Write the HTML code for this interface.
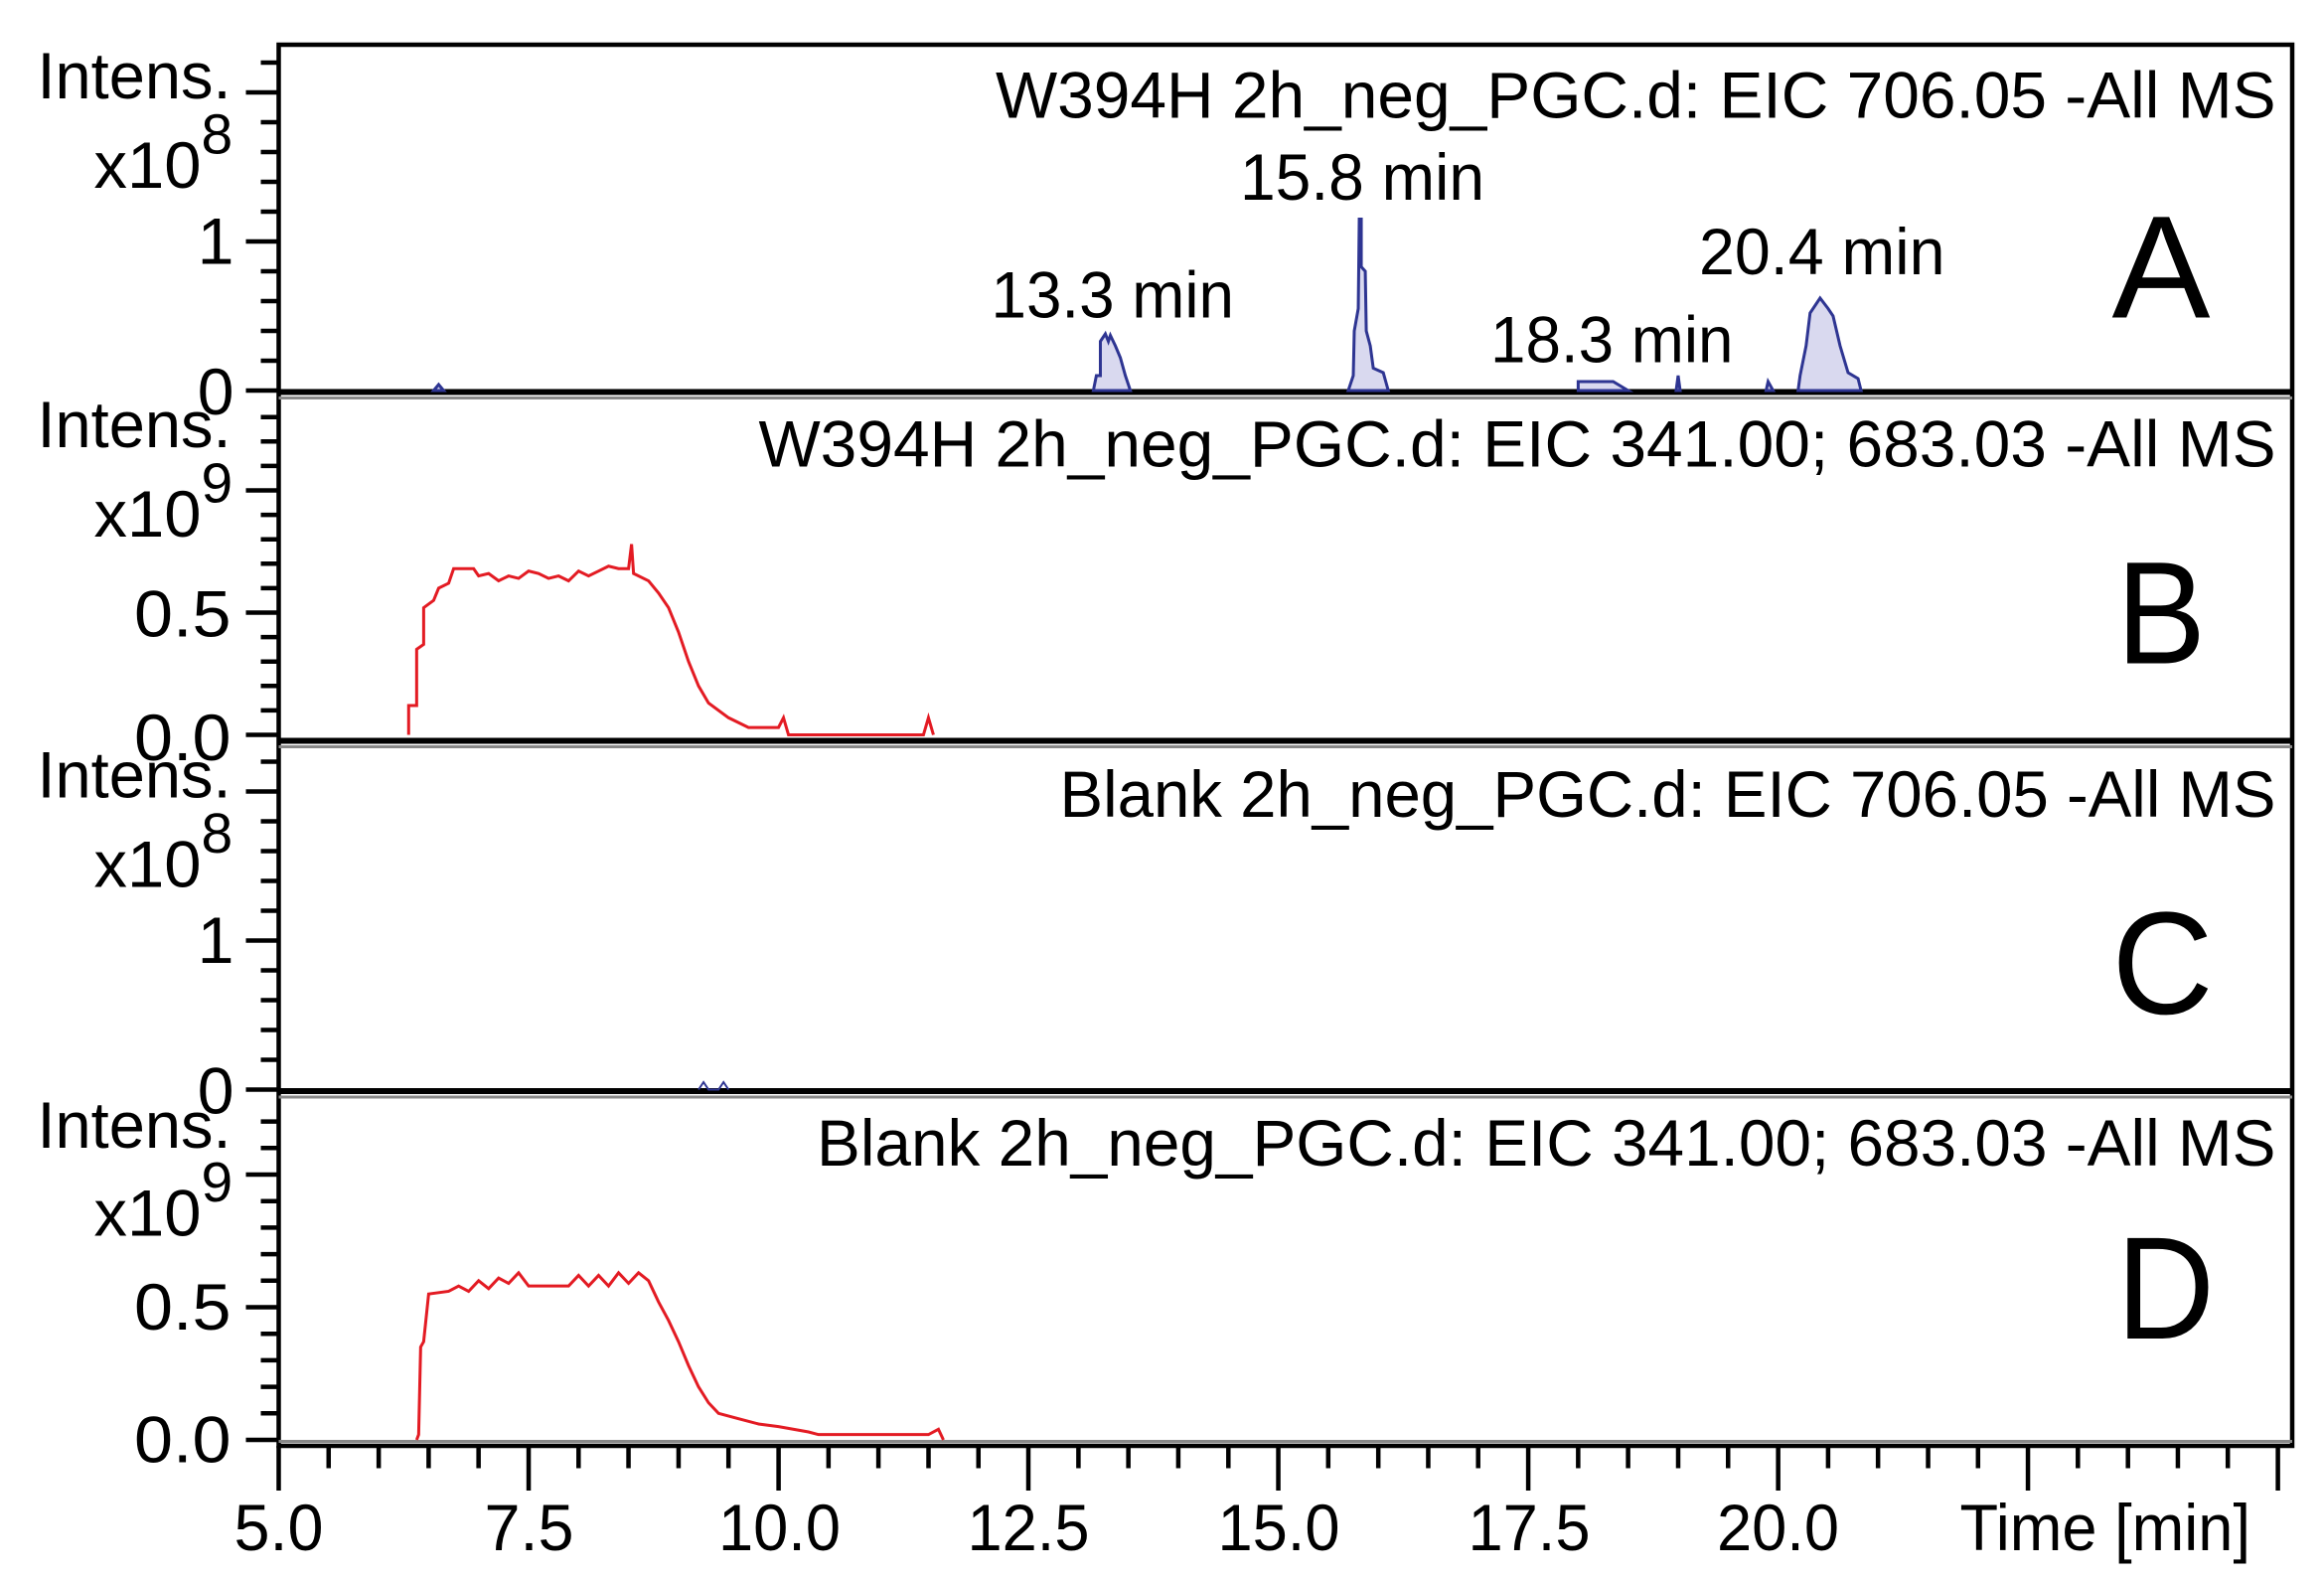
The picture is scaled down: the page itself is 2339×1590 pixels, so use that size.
<!DOCTYPE html>
<html><head><meta charset="utf-8"><style>html,body{margin:0;padding:0;background:#fff}svg{display:block}</style></head>
<body>
<svg width="2339" height="1590" viewBox="0 0 1559.33 1060" xmlns="http://www.w3.org/2000/svg" font-family="Liberation Sans, Arial, sans-serif">
<rect width="1559.33" height="1060" fill="#fff"/>
<g fill="none" stroke="#000" stroke-width="3">
<path d="M165,262H187M175,242H187M175,222H187M175,202H187M175,182H187M165,162H187M175,142H187M175,122H187M175,102H187M175,82H187M165,62H187M175,42H187"/>
<path d="M165,493H187M175,476.6H187M175,460.2H187M175,443.8H187M175,427.4H187M165,411H187M175,394.6H187M175,378.2H187M175,361.8H187M175,345.4H187M165,329H187M175,312.6H187M175,296.2H187M175,279.8H187"/>
<path d="M165,731H187M175,711H187M175,691H187M175,671H187M175,651H187M165,631H187M175,611H187M175,591H187M175,571H187M175,551H187M165,531H187M175,511H187"/>
<path d="M165,966H187M175,948.2H187M175,930.4H187M175,912.6H187M175,894.8H187M165,877H187M175,859.2H187M175,841.4H187M175,823.6H187M175,805.8H187M165,788H187M175,770.2H187M175,752.4H187"/>
<path d="M187,970V1000M220.5,970V985M254.1,970V985M287.6,970V985M321.1,970V985M354.7,970V1000M388.2,970V985M421.7,970V985M455.3,970V985M488.8,970V985M522.4,970V1000M555.9,970V985M589.4,970V985M623,970V985M656.5,970V985M690,970V1000M723.6,970V985M757.1,970V985M790.6,970V985M824.2,970V985M857.7,970V1000M891.2,970V985M924.8,970V985M958.3,970V985M991.8,970V985M1025.4,970V1000M1058.9,970V985M1092.4,970V985M1126,970V985M1159.5,970V985M1193.1,970V1000M1226.6,970V985M1260.1,970V985M1293.7,970V985M1327.2,970V985M1360.7,970V1000M1394.2,970V985M1427.8,970V985M1461.3,970V985M1494.8,970V985M1528.4,970V1000"/>
<rect x="187" y="30" width="1351" height="940"/>
<line x1="187" y1="263" x2="1538" y2="263" stroke-width="4"/>
<line x1="187" y1="497" x2="1538" y2="497" stroke-width="4"/>
<line x1="187" y1="732" x2="1538" y2="732" stroke-width="4"/>
</g>
<g stroke="#888" stroke-width="2">
<line x1="187" y1="267" x2="1538" y2="267"/>
<line x1="187" y1="501" x2="1538" y2="501"/>
<line x1="187" y1="736" x2="1538" y2="736"/>
<line x1="187" y1="967" x2="1538" y2="967"/>
</g>
<g transform="translate(187,262) scale(67.07,-100) translate(-5,0)">
<path fill="#d9d9ef" stroke="#2e3592" stroke-width="3" vector-effect="non-scaling-stroke" d="M13.15,0 L13.18,0.1 L13.22,0.1 L13.22,0.33 L13.27,0.38 L13.3,0.33 L13.32,0.37 L13.37,0.3 L13.42,0.22 L13.47,0.1 L13.52,0 Z M15.7,0 L15.75,0.1 L15.76,0.4 L15.8,0.55 L15.81,1.15 L15.83,1.15 L15.83,0.83 L15.87,0.8 L15.88,0.4 L15.92,0.3 L15.95,0.15 L16.05,0.12 L16.1,0 Z M18.0,0 L18.0,0.06 L18.35,0.06 L18.45,0.02 L18.5,0 Z M18.98,0 L19.0,0.1 L19.02,0 Z M19.88,0 L19.9,0.06 L19.95,0 Z M20.2,0 L20.22,0.1 L20.28,0.3 L20.32,0.52 L20.38,0.58 L20.42,0.62 L20.5,0.55 L20.55,0.5 L20.62,0.3 L20.7,0.12 L20.8,0.08 L20.83,0 Z M6.55,0 L6.6,0.04 L6.65,0 Z"/>
</g>
<g transform="translate(187,493) scale(67.07,-164) translate(-5,0)">
<polyline fill="none" stroke="#e31b23" stroke-width="3" vector-effect="non-scaling-stroke" points="6.3,0 6.3,0.12 6.38,0.12 6.38,0.35 6.45,0.37 6.45,0.52 6.55,0.55 6.6,0.6 6.7,0.62 6.75,0.68 6.95,0.68 7.0,0.65 7.1,0.66 7.2,0.63 7.3,0.65 7.4,0.64 7.5,0.67 7.6,0.66 7.7,0.64 7.8,0.65 7.9,0.63 8.0,0.67 8.1,0.65 8.2,0.67 8.3,0.69 8.4,0.68 8.5,0.68 8.53,0.78 8.55,0.66 8.7,0.63 8.8,0.58 8.9,0.52 9.0,0.42 9.1,0.3 9.2,0.2 9.3,0.13 9.5,0.07 9.7,0.03 10.0,0.03 10.05,0.07 10.1,0 11.45,0 11.5,0.07 11.55,0"/>
</g>
<g transform="translate(187,731) scale(67.07,-100) translate(-5,0)">
<polyline fill="none" stroke="#2e3592" stroke-width="2" vector-effect="non-scaling-stroke" points="9.2,0 9.25,0.05 9.3,0 9.4,0 9.45,0.05 9.5,0"/>
</g>
<g transform="translate(187,966) scale(67.07,-178) translate(-5,0)">
<polyline fill="none" stroke="#e31b23" stroke-width="3" vector-effect="non-scaling-stroke" points="6.38,0 6.4,0.02 6.42,0.35 6.45,0.37 6.5,0.55 6.7,0.56 6.8,0.58 6.9,0.56 7.0,0.6 7.1,0.57 7.2,0.61 7.3,0.59 7.4,0.63 7.5,0.58 7.7,0.58 7.9,0.58 8.0,0.62 8.1,0.58 8.2,0.62 8.3,0.58 8.4,0.63 8.5,0.59 8.6,0.63 8.7,0.6 8.8,0.52 8.9,0.45 9.0,0.37 9.1,0.28 9.2,0.2 9.3,0.14 9.4,0.1 9.6,0.08 9.8,0.06 10.0,0.05 10.3,0.03 10.4,0.02 11.5,0.02 11.6,0.04 11.65,0"/>
</g>
<g font-size="44" fill="#000">
<text x="25" y="66" textLength="130" lengthAdjust="spacingAndGlyphs">Intens.</text>
<text x="25" y="300" textLength="130" lengthAdjust="spacingAndGlyphs">Intens.</text>
<text x="25" y="535" textLength="130" lengthAdjust="spacingAndGlyphs">Intens.</text>
<text x="25" y="770" textLength="130" lengthAdjust="spacingAndGlyphs">Intens.</text>
<text x="63" y="126" textLength="72" lengthAdjust="spacingAndGlyphs">x10</text><text x="135" y="103" font-size="38">8</text>
<text x="63" y="360" textLength="72" lengthAdjust="spacingAndGlyphs">x10</text><text x="135" y="337" font-size="38">9</text>
<text x="63" y="595" textLength="72" lengthAdjust="spacingAndGlyphs">x10</text><text x="135" y="572" font-size="38">8</text>
<text x="63" y="829" textLength="72" lengthAdjust="spacingAndGlyphs">x10</text><text x="135" y="806" font-size="38">9</text>
<text x="157" y="177" text-anchor="end">1</text>
<text x="157" y="278" text-anchor="end">0</text>
<text x="90" y="427" textLength="65" lengthAdjust="spacingAndGlyphs">0.5</text>
<text x="90" y="510" textLength="65" lengthAdjust="spacingAndGlyphs">0.0</text>
<text x="157" y="646" text-anchor="end">1</text>
<text x="157" y="747" text-anchor="end">0</text>
<text x="90" y="892" textLength="65" lengthAdjust="spacingAndGlyphs">0.5</text>
<text x="90" y="981" textLength="65" lengthAdjust="spacingAndGlyphs">0.0</text>
<text x="668" y="79" textLength="859" lengthAdjust="spacingAndGlyphs">W394H 2h_neg_PGC.d: EIC 706.05 -All MS</text>
<text x="509" y="313" textLength="1018" lengthAdjust="spacingAndGlyphs">W394H 2h_neg_PGC.d: EIC 341.00; 683.03 -All MS</text>
<text x="711" y="548" textLength="816" lengthAdjust="spacingAndGlyphs">Blank 2h_neg_PGC.d: EIC 706.05 -All MS</text>
<text x="548" y="782" textLength="979" lengthAdjust="spacingAndGlyphs">Blank 2h_neg_PGC.d: EIC 341.00; 683.03 -All MS</text>
<text x="665" y="213" textLength="163" lengthAdjust="spacingAndGlyphs">13.3 min</text>
<text x="832" y="134" textLength="164" lengthAdjust="spacingAndGlyphs">15.8 min</text>
<text x="1000" y="243" textLength="163" lengthAdjust="spacingAndGlyphs">18.3 min</text>
<text x="1140" y="184" textLength="165" lengthAdjust="spacingAndGlyphs">20.4 min</text>
<text x="157" y="1040" textLength="60" lengthAdjust="spacingAndGlyphs">5.0</text>
<text x="325" y="1040" textLength="60" lengthAdjust="spacingAndGlyphs">7.5</text>
<text x="482" y="1040" textLength="82" lengthAdjust="spacingAndGlyphs">10.0</text>
<text x="649" y="1040" textLength="82" lengthAdjust="spacingAndGlyphs">12.5</text>
<text x="817" y="1040" textLength="82" lengthAdjust="spacingAndGlyphs">15.0</text>
<text x="985" y="1040" textLength="82" lengthAdjust="spacingAndGlyphs">17.5</text>
<text x="1152" y="1040" textLength="82" lengthAdjust="spacingAndGlyphs">20.0</text>
<text x="1315" y="1040" textLength="195" lengthAdjust="spacingAndGlyphs">Time [min]</text>
</g>
<g font-size="98" fill="#000">
<text x="1417" y="213" textLength="66" lengthAdjust="spacingAndGlyphs">A</text>
<text x="1420" y="445" textLength="60" lengthAdjust="spacingAndGlyphs">B</text>
<text x="1417" y="680" textLength="68" lengthAdjust="spacingAndGlyphs">C</text>
<text x="1420" y="898" textLength="66" lengthAdjust="spacingAndGlyphs">D</text>
</g>
</svg>
</body></html>
